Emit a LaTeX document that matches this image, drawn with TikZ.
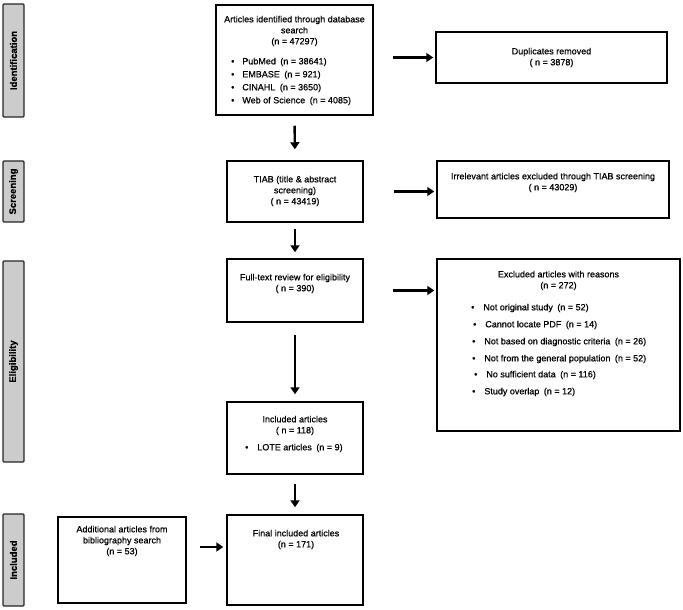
\documentclass[tikz,border=0pt]{standalone}
\usepackage{fontspec}
\setmainfont{Liberation Sans}[FakeBold=0.6]
\newfontfamily\labfont{Liberation Sans}[FakeBold=0.5]
\usetikzlibrary{arrows.meta}
\begin{document}
\begin{tikzpicture}[x=1pt,y=-1pt,
  box/.style={draw=black, line width=1.5pt, inner sep=0pt},
  lab/.style={draw=black!85, line width=1.2pt, fill=black!20, rounded corners=1pt, inner sep=0pt, minimum width=21pt},
  labtxt/.style={font=\labfont\fontsize{9.5}{11}\selectfont\bfseries, rotate=90, inner sep=0pt},
  txt/.style={font=\fontsize{9}{11}\selectfont, inner sep=0pt, align=center},
  btxt/.style={font=\fontsize{9}{11}\selectfont, inner sep=0pt, anchor=west},
  arr/.style={line width=2.4pt, -{Triangle[length=7pt,width=9pt]}},
]
\useasboundingbox (0,0) rectangle (683,610);

% side labels
\node[lab, minimum height=113pt] (lid) at (13.5,60.5) {};
\node[labtxt] (tid) at (lid) {Identification};
\node[lab, minimum height=61pt] (lsc) at (13.5,191.5) {};
\node[labtxt] (tsc) at (lsc) {Screening};
\node[lab, minimum height=201pt] (lel) at (13.5,361.5) {};
\node[labtxt] (tel) at (lel) {Eligibility};
\node[lab, minimum height=92pt] (lin) at (13.5,560) {};
\node[labtxt] (tin) at (lin) {Included};

% boxes
\node[box, minimum width=157pt, minimum height=110pt] (art) at (294.5,60) {};
\node[box, minimum width=231pt, minimum height=51pt] (dup) at (551.5,57.5) {};
\node[box, minimum width=136pt, minimum height=61pt] (tiab) at (295,191.5) {};
\node[box, minimum width=232pt, minimum height=57pt] (irr) at (553,189.5) {};
\node[box, minimum width=136pt, minimum height=63pt] (ft) at (295,290.5) {};
\node[box, minimum width=243pt, minimum height=172pt] (exc) at (558.5,345) {};
\node[box, minimum width=136pt, minimum height=72pt] (inc) at (295,438) {};
\node[box, minimum width=128pt, minimum height=86pt] (add) at (122,560) {};
\node[box, minimum width=136pt, minimum height=90pt] (fin) at (295,560) {};

% texts
\node[txt] (tart) at (294.5,31) {Articles identified through database\\search\\(n = 47297)};
\node[btxt] (b1) at (231,62) {•\hspace{8pt}PubMed\enspace(n = 38641)};
\node[btxt] (b2) at (231,75) {•\hspace{8pt}EMBASE\enspace(n = 921)};
\node[btxt] (b3) at (231,88) {•\hspace{8pt}CINAHL\enspace(n = 3650)};
\node[btxt] (b4) at (231,101) {•\hspace{8pt}Web of Science\enspace(n = 4085)};

\node[txt] (tdup) at (551.5,57.5) {Duplicates removed\\( n = 3878)};
\node[txt] (ttiab) at (295,191) {TIAB (title \& abstract\\screening)\\( n = 43419)};
\node[txt] (tirr) at (553,182.5) {Irrelevant articles excluded through TIAB screening\\( n = 43029)};
\node[txt] (tft) at (295,283.5) {Full-text review for eligibility\\( n = 390)};
\node[txt] (texc) at (558.5,280.5) {Excluded articles with reasons\\(n = 272)};
\node[btxt] (e1) at (471,308) {•\hspace{9pt}Not original study\enspace(n = 52)};
\node[btxt] (e2) at (473,325) {•\hspace{9pt}Cannot locate PDF\enspace(n = 14)};
\node[btxt] (e3) at (472,342) {•\hspace{9pt}Not based on diagnostic criteria\enspace(n = 26)};
\node[btxt] (e4) at (472,359) {•\hspace{9pt}Not from the general population\enspace(n = 52)};
\node[btxt] (e5) at (474,375) {•\hspace{9pt}No sufficient data\enspace(n = 116)};
\node[btxt] (e6) at (472,392) {•\hspace{9pt}Study overlap\enspace(n = 12)};
\node[txt] (tinc) at (295,425.5) {Included articles\\( n = 118)};
\node[btxt] (l1) at (245,448) {•\hspace{9pt}LOTE articles\enspace(n = 9)};
\node[txt] (tadd) at (122,541) {Additional articles from\\bibliography search\\(n = 53)};
\node[txt] (tfin) at (296,539.5) {Final included articles\\(n = 171)};

% arrows
\draw[arr, shorten <=10pt, shorten >=11pt] (art.south) -- (tiab.north);
\draw[arr, shorten <=6pt, shorten >=6pt] (tiab.south) -- (ft.north);
\draw[arr, shorten <=12pt, shorten >=7pt] (ft.south) -- (inc.north);
\draw[arr, shorten <=9pt, shorten >=7pt] (inc.south) -- (fin.north);
\draw[arr, shorten <=19pt, shorten >=2pt] (art.east |- dup.west) -- (dup.west);
\draw[arr, shorten <=30pt, shorten >=2pt] (tiab.east) -- (tiab.east -| irr.west);
\draw[arr, shorten <=29pt, shorten >=2pt] (ft.east) -- (ft.east -| exc.west);
\draw[arr, shorten <=13pt, shorten >=3pt] ([yshift=13pt]add.east) -- ([yshift=13pt]add.east -| fin.west);
\end{tikzpicture}
\end{document}
